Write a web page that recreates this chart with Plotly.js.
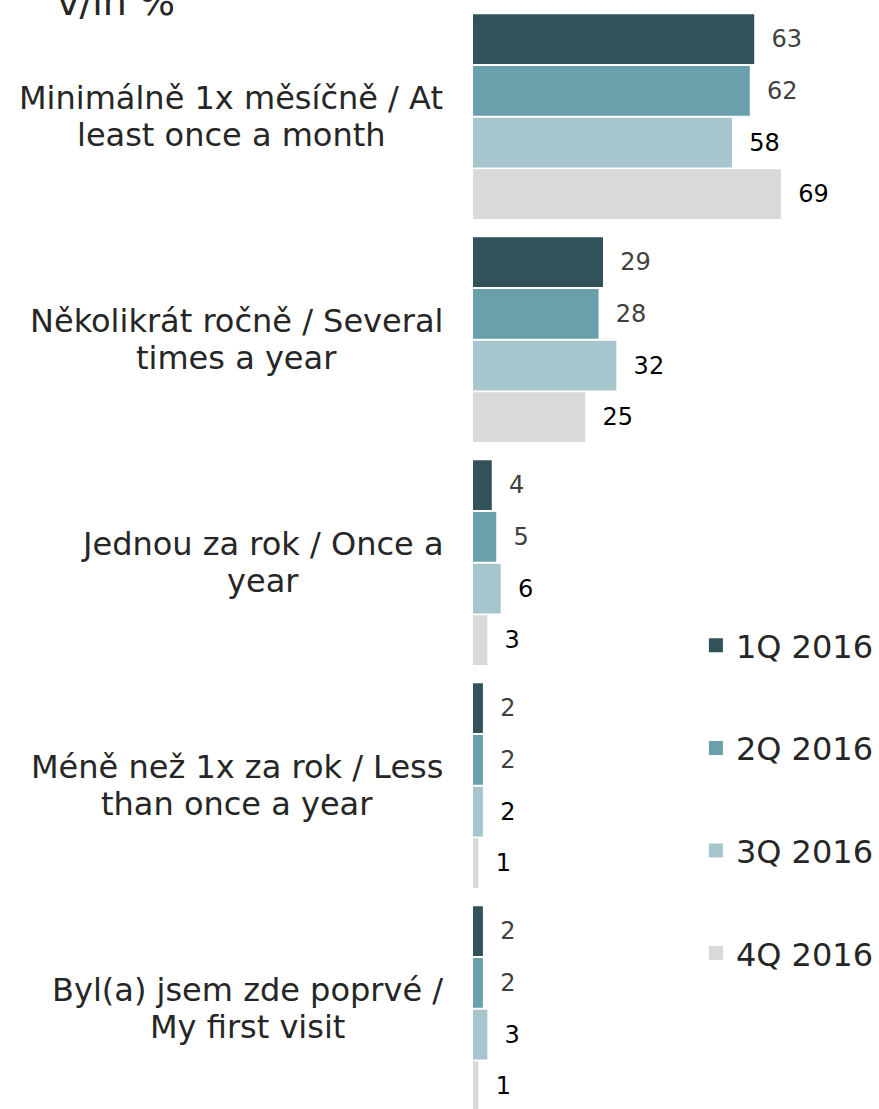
<!DOCTYPE html>
<html>
<head>
<meta charset="utf-8">
<script src="https://cdn.plot.ly/plotly-3.0.1.min.js"></script>
<style>
  html, body { margin: 0; padding: 0; background: #ffffff; }
  #chart { width: 879px; height: 1109px; }
</style>
</head>
<body>
<div id="chart"></div>
<script>
// ---- data ----
const categories = [
  "Minimálně 1x měsíčně / At<br>least once a month",
  "Několikrát ročně / Several<br>times a year",
  "Jednou za rok / Once a<br>year",
  "Méně než 1x za rok / Less<br>than once a year",
  "Byl(a) jsem zde poprvé /<br>My first visit"
];
const seriesNames = ["1Q 2016", "2Q 2016", "3Q 2016", "4Q 2016"];
const q1 = [63, 29, 4, 2, 2];
const q2 = [62, 28, 5, 2, 2];
const q3 = [58, 32, 6, 2, 3];
const q4 = [69, 25, 3, 1, 1];
const unitLabel = "v/in %";

// ---- styles ----
const colors = ["#325259", "#6a9fac", "#a6c5cc", "#d9d9d9"];
const textColors = ["#404040", "#404040", "#000000", "#000000"];
const FONT = "DejaVu Sans, Verdana, sans-serif";
const values = [q1, q2, q3, q4];

const traces = values.map((v, i) => ({
  type: "bar",
  orientation: "h",
  name: seriesNames[i],
  legendgroup: "g" + i,
  x: v,
  y: categories,
  marker: { color: colors[i], line: { width: 2, color: colors[i] } },
  text: v.map(String),
  texttemplate: "\u00a0\u00a0%{text}",
  textposition: "outside",
  constraintext: "none",
  cliponaxis: false,
  textfont: { family: FONT, size: 24, color: textColors[i] },
  hoverinfo: "x+name"
}));

const W = 879, H = 1109;
const plotLeft = 473;
const plotW = W - plotLeft;
const pxPerUnit = 4.47;
const groupPitch = 223;
const firstCenter = 116.7;
const lineGap = 37.5;
const labelSize = 32;
const labelRightGap = 30;

// measure text widths to centre the lines of each label block
const cv = document.createElement("canvas").getContext("2d");
cv.font = labelSize + "px 'DejaVu Sans'";
function tw(s) { return cv.measureText(s).width; }

const annotations = [];
categories.forEach(c => {
  const lines = c.split("<br>");
  const n = lines.length;
  const maxW = Math.max.apply(null, lines.map(tw));
  lines.forEach((ln, k) => {
    annotations.push({
      xref: "paper", yref: "y",
      x: 0, y: c,
      xanchor: "center", yanchor: "middle",
      xshift: -labelRightGap - maxW / 2,
      yshift: ((n - 1) / 2 - k) * lineGap,
      showarrow: false,
      text: ln,
      font: { family: FONT, size: labelSize, color: "#262626" }
    });
  });
});
annotations.push({
  xref: "paper", yref: "paper",
  x: 0, y: 1,
  xanchor: "left", yanchor: "bottom",
  xshift: 55 - plotLeft, yshift: -26,
  showarrow: false,
  text: unitLabel,
  font: { family: FONT, size: 38, color: "#262626" }
});

const layout = {
  width: W, height: H,
  margin: { l: plotLeft, r: 0, t: 0, b: 0, pad: 0 },
  paper_bgcolor: "#ffffff",
  plot_bgcolor: "#ffffff",
  barmode: "group",
  bargap: 0.073,
  bargroupgap: 0.075,
  font: { family: FONT, color: "#262626" },
  xaxis: {
    range: [0, plotW / pxPerUnit],
    visible: false,
    fixedrange: true
  },
  yaxis: {
    type: "category",
    range: [(H - firstCenter) / groupPitch, (0 - firstCenter) / groupPitch],
    showticklabels: false,
    showgrid: false,
    zeroline: false,
    showline: false,
    ticks: "",
    fixedrange: true
  },
  showlegend: true,
  legend: {
    x: (697 - plotLeft) / plotW,
    xanchor: "left",
    y: 1 - 618 / H,
    yanchor: "top",
    traceorder: "grouped",
    tracegroupgap: 58,
    font: { family: FONT, size: 32, color: "#262626" },
    bgcolor: "rgba(0,0,0,0)"
  },
  annotations: annotations
};

Plotly.newPlot("chart", traces, layout, { displayModeBar: false, staticPlot: true });
</script>
</body>
</html>
